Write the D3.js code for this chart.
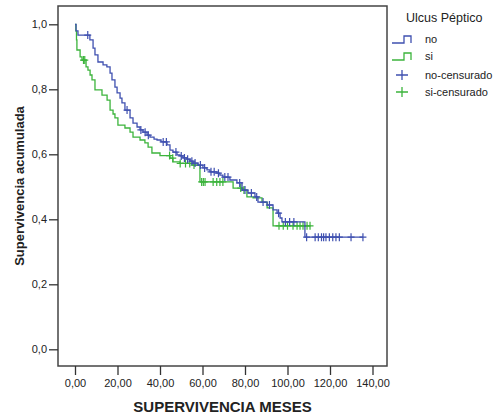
<!DOCTYPE html>
<html>
<head>
<meta charset="utf-8">
<script src="https://cdn.jsdelivr.net/npm/d3@7"></script>
<style>
  body { margin: 0; background: #fff; }
  svg text { font-family: "Liberation Sans", Arial, sans-serif; fill: #222; }
</style>
</head>
<body>
<div id="grafico"></div>
<script>
// Datos (Kaplan-Meier)
const tiemposNo = [0.5, 1.4, 7, 8.5, 9.4, 10.8, 13.2, 15, 16.5, 17.4, 18.8, 19.8, 21.2, 22.1, 23.5, 25.9, 27.3, 29.2, 30.6, 32, 33.9, 35.3, 37.2, 38.6, 40.5, 43.3, 44.7, 46.1, 48, 49.4, 50.8, 52.7, 54.1, 55.5, 57.9, 60.2, 62.1, 63.5, 66.8, 68.2, 69.6, 72.9, 76.2, 78.6, 81.4, 84.7, 86.1, 90.4, 93.2, 95.1, 96.5, 97.4, 108.2];
const supervNo = [0.98, 0.967, 0.952, 0.927, 0.906, 0.884, 0.875, 0.869, 0.85, 0.829, 0.807, 0.789, 0.773, 0.758, 0.736, 0.712, 0.696, 0.684, 0.675, 0.668, 0.659, 0.653, 0.647, 0.644, 0.638, 0.629, 0.613, 0.607, 0.598, 0.595, 0.589, 0.585, 0.579, 0.573, 0.567, 0.558, 0.552, 0.546, 0.542, 0.536, 0.53, 0.521, 0.512, 0.49, 0.481, 0.469, 0.453, 0.444, 0.429, 0.419, 0.404, 0.392, 0.345];
const censuradosNo = [6, 24.5, 31, 33, 34.5, 41.5, 43, 47.5, 50, 51.5, 53, 55, 56.5, 59, 61, 64, 65.5, 67.5, 70.5, 72, 77.5, 80, 83, 85.5, 88.5, 91.5, 95.8, 99, 101, 103, 109, 113, 114.5, 116, 117, 118.1, 119.7, 121.3, 122.8, 124.4, 129.9, 135.5];

const tiemposSi = [0.4, 0.7, 0.9, 2.4, 3.3, 5.2, 6.1, 7.1, 8, 9.4, 12.7, 15.1, 16.5, 17.9, 18.8, 20.2, 23.5, 25.9, 27.3, 30.6, 32.9, 34.4, 36.2, 40, 44.7, 46.1, 49.4, 55.5, 58.8, 74.4, 79, 80.9, 83.8, 88, 90.4, 93.2];
const supervSi = [0.98, 0.952, 0.921, 0.9, 0.89, 0.869, 0.859, 0.844, 0.829, 0.798, 0.782, 0.767, 0.736, 0.724, 0.712, 0.69, 0.681, 0.668, 0.653, 0.644, 0.635, 0.622, 0.604, 0.596, 0.588, 0.577, 0.572, 0.567, 0.515, 0.496, 0.49, 0.469, 0.466, 0.453, 0.435, 0.38];
const censuradosSi = [4, 4.6, 44.5, 46, 49.5, 52, 54, 56, 59.6, 60.4, 61.2, 65, 66.7, 68.2, 69.6, 78, 79.5, 96, 98, 100, 102.6, 104.5, 105.9, 107.3, 109.2, 110.6];

const ticksX = [0, 20, 40, 60, 80, 100, 120, 140];
const ticksY = [0, 0.2, 0.4, 0.6, 0.8, 1.0];

const grupos = ["no", "si"];
const cores = { no: "#3f50b0", si: "#3cb43c" };

// Configuración del gráfico
const width = 501, height = 420;
const marco = { left: 58, top: 6, right: 387, bottom: 366 };

const svg = d3.select("#grafico").append("svg")
    .attr("width", width)
    .attr("height", height);

const x = d3.scaleLinear().domain([0, 140]).range([75, 372.5]);
const y = d3.scaleLinear().domain([0, 1]).range([349.3, 24.3]);

// Función escalonada: supervivencia en el tiempo t
function supervEn(tiempos, superv, t) {
    let s = 1;
    for (let i = 0; i < tiempos.length; i++) {
        if (tiempos[i] <= t) s = superv[i];
    }
    return s;
}

const datos = {
    no: { tiempos: tiemposNo, superv: supervNo, cens: censuradosNo },
    si: { tiempos: tiemposSi, superv: supervSi, cens: censuradosSi }
};

const linea = d3.line()
    .x(d => x(d[0]))
    .y(d => y(d[1]))
    .curve(d3.curveStepAfter);

const cruz = "M-3.5,0H3.5M0,-4V4";

// dibujar "si" primero y "no" encima
["si", "no"].forEach(g => {
    const d = datos[g];
    const puntos = [[0, 1]];
    d.tiempos.forEach((t, i) => puntos.push([t, d.superv[i]]));
    const fin = Math.max(d3.max(d.cens), d3.max(d.tiempos));
    puntos.push([fin, supervEn(d.tiempos, d.superv, fin)]);

    svg.append("path")
        .datum(puntos)
        .attr("d", linea)
        .attr("fill", "none")
        .attr("stroke", cores[g])
        .attr("stroke-width", 1.3);

    svg.append("g").selectAll("path")
        .data(d.cens)
        .join("path")
        .attr("transform", t => `translate(${x(t)},${y(supervEn(d.tiempos, d.superv, t))})`)
        .attr("d", cruz)
        .attr("stroke", cores[g])
        .attr("stroke-width", 1.2);
});

// Marco
svg.append("rect")
    .attr("x", marco.left)
    .attr("y", marco.top)
    .attr("width", marco.right - marco.left)
    .attr("height", marco.bottom - marco.top)
    .attr("fill", "none")
    .attr("stroke", "#444")
    .attr("stroke-width", 1.5);

// Ejes
const ejeY = svg.append("g")
    .attr("transform", `translate(${marco.left},0)`)
    .call(d3.axisLeft(y).tickValues(ticksY).tickSize(9).tickPadding(2)
        .tickFormat(v => d3.format(".1f")(v).replace(".", ",")));
ejeY.select(".domain").remove();
ejeY.selectAll("line").attr("stroke", "#333").attr("stroke-width", 1.3);
ejeY.selectAll("text").style("font-size", "11px").attr("fill", "#222");

const ejeX = svg.append("g")
    .attr("transform", `translate(0,${marco.bottom})`)
    .call(d3.axisBottom(x).tickValues(ticksX).tickSize(9).tickPadding(4)
        .tickFormat(v => d3.format(".2f")(v).replace(".", ",")));
ejeX.select(".domain").remove();
ejeX.selectAll("line").attr("stroke", "#333").attr("stroke-width", 1.3);
ejeX.selectAll("text").style("font-size", "11px").attr("fill", "#222");

// Títulos de los ejes
svg.append("text")
    .attr("x", (marco.left + marco.right) / 2)
    .attr("y", 412)
    .attr("text-anchor", "middle")
    .style("font-size", "15px")
    .style("font-weight", "bold")
    .text("SUPERVIVENCIA MESES");

svg.append("text")
    .attr("transform", `translate(24,${(marco.top + marco.bottom) / 2}) rotate(-90)`)
    .attr("text-anchor", "middle")
    .style("font-size", "13px")
    .style("font-weight", "bold")
    .text("Supervivencia acumulada");

// Leyenda
const leyenda = svg.append("g");
leyenda.append("text")
    .attr("x", 406)
    .attr("y", 22)
    .style("font-size", "12.5px")
    .text("Ulcus Péptico");

grupos.forEach((g, i) => {
    const cy = 43 + i * 17;
    leyenda.append("path")
        .attr("d", `M392,${cy}H404V${cy - 7}H411V${cy}`)
        .attr("fill", "none")
        .attr("stroke", cores[g])
        .attr("stroke-width", 1.3);
    leyenda.append("text")
        .attr("x", 425)
        .attr("y", cy)
        .style("font-size", "11px")
        .text(g);
});

grupos.forEach((g, i) => {
    const cy = 75 + i * 17;
    leyenda.append("path")
        .attr("transform", `translate(402,${cy})`)
        .attr("d", "M-6,0H6M0,-5V5")
        .attr("stroke", cores[g])
        .attr("stroke-width", 1.3);
    leyenda.append("text")
        .attr("x", 425)
        .attr("y", cy + 4)
        .style("font-size", "11px")
        .text(g + "-censurado");
});
</script>
</body>
</html>
